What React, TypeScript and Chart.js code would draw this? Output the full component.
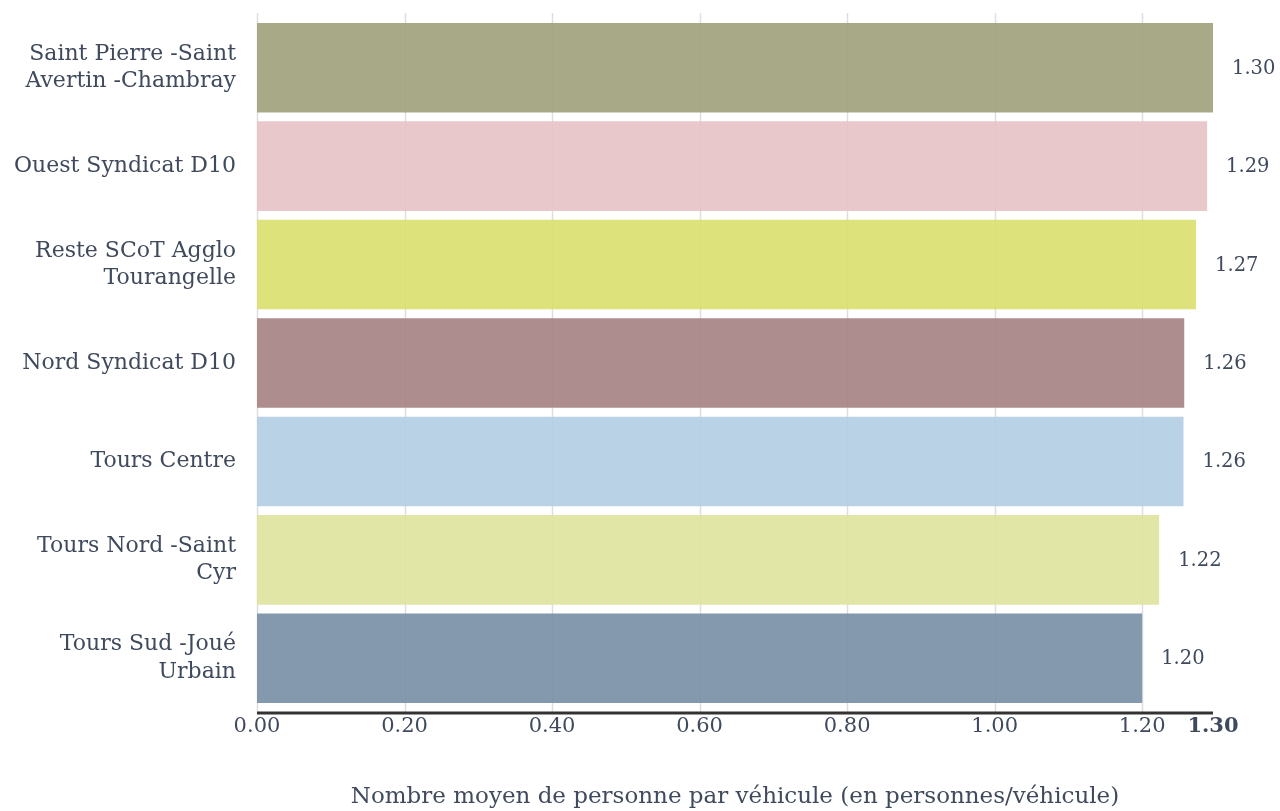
import React, { useEffect, useRef } from "react";
import { Chart, registerables } from "chart.js";

Chart.register(...registerables);

const categories: string[][] = [
  ["Saint Pierre -Saint", "Avertin -Chambray"],
  ["Ouest Syndicat D10"],
  ["Reste SCoT Agglo", "Tourangelle"],
  ["Nord Syndicat D10"],
  ["Tours Centre"],
  ["Tours Nord -Saint", "Cyr"],
  ["Tours Sud -Joué", "Urbain"],
];
const values: number[] = [1.296, 1.288, 1.273, 1.257, 1.256, 1.223, 1.2];
const barColors: string[] = [
  "rgba(159,161,122,0.9)",
  "rgba(229,194,197,0.9)",
  "rgba(217,223,108,0.9)",
  "rgba(164,129,129,0.9)",
  "rgba(178,205,227,0.9)",
  "rgba(222,226,156,0.9)",
  "rgba(119,142,164,0.9)",
];
const tickValues: number[] = [0, 0.2, 0.4, 0.6, 0.8, 1.0, 1.2];
const xTitle = "Nombre moyen de personne par véhicule (en personnes/véhicule)";

const FONT = "'DejaVu Serif', serif";
const TEXT = "#3f4a5d";

const gridPlugin = {
  id: "extGrid",
  beforeDatasetsDraw(chart: any) {
    const { ctx, chartArea, scales } = chart;
    const x = scales.x;
    ctx.save();
    ctx.strokeStyle = "rgba(200,200,200,0.6)";
    ctx.lineWidth = 1.5;
    x.ticks.forEach((t: any, i: number) => {
      if (i === x.ticks.length - 1) return;
      const px = Math.round(x.getPixelForValue(t.value)) + 0.5;
      ctx.beginPath();
      ctx.moveTo(px, chartArea.top - 5.5);
      ctx.lineTo(px, chartArea.bottom + 5.5);
      ctx.stroke();
    });
    ctx.restore();
  },
  afterDatasetsDraw(chart: any) {
    const { ctx, chartArea, scales } = chart;
    const x = scales.x;
    ctx.save();
    ctx.strokeStyle = "#333333";
    ctx.lineWidth = 3;
    ctx.beginPath();
    ctx.moveTo(x.getPixelForValue(0), chartArea.bottom + 5.5);
    ctx.lineTo(chartArea.right, chartArea.bottom + 5.5);
    ctx.stroke();
    // data labels
    ctx.fillStyle = TEXT;
    ctx.font = "19.5px " + FONT;
    ctx.textAlign = "left";
    ctx.textBaseline = "middle";
    const meta = chart.getDatasetMeta(0);
    meta.data.forEach((bar: any, i: number) => {
      ctx.fillText(values[i].toFixed(2), bar.x + 19, bar.y + 1);
    });
    ctx.restore();
  },
};

export default function App() {
  const ref = useRef<HTMLCanvasElement>(null);
  useEffect(() => {
    document.body.style.margin = "0";
    const maxVal = Math.max(...values);
    const chart = new Chart(ref.current!, {
      type: "bar",
      data: {
        labels: categories,
        datasets: [
          {
            data: values,
            backgroundColor: barColors,
            borderWidth: 0,
            barPercentage: 0.91,
            categoryPercentage: 1,
          },
        ],
      },
      options: {
        indexAxis: "y",
        animation: false,
        responsive: false,
        maintainAspectRatio: false,
        layout: { padding: { top: 18.5, right: 67, bottom: 0, left: 0 } },
        plugins: { legend: { display: false }, tooltip: { enabled: false } },
        scales: {
          x: {
            type: "linear",
            min: 0,
            max: maxVal,
            grid: { display: false, drawTicks: false },
            border: { display: false },
            afterBuildTicks: (scale: any) => {
              scale.ticks = [...tickValues, maxVal].map((v) => ({ value: v }));
            },
            afterFit: (scale: any) => {
              scale.height = 103.5;
              scale.paddingLeft = 0;
              scale.paddingRight = 0;
            },
            ticks: {
              padding: 6,
              color: TEXT,
              maxRotation: 0,
              autoSkip: false,
              font: (c: any) =>
                c.index === tickValues.length
                  ? { family: FONT, size: 21, weight: "bold" }
                  : { family: FONT, size: 21 },
              callback: (v: any) => Number(v).toFixed(2),
            },
            title: {
              display: true,
              text: xTitle,
              color: TEXT,
              font: { family: FONT, size: 23 },
              padding: { top: 0, bottom: 0 },
            },
          },
          y: {
            grid: { display: false, drawTicks: false },
            border: { display: false },
            afterFit: (scale: any) => {
              scale.width = 257;
              scale.paddingTop = 0;
              scale.paddingBottom = 0;
            },
            ticks: {
              color: TEXT,
              padding: 21,
              font: { family: FONT, size: 22, lineHeight: 1.23 },
            },
          },
        },
      },
      plugins: [gridPlugin],
    });
    return () => chart.destroy();
  }, []);
  return (
    <div style={{ width: 1280, height: 811 }}>
      <canvas ref={ref} width={1280} height={811} style={{ display: "block" }} />
    </div>
  );
}
